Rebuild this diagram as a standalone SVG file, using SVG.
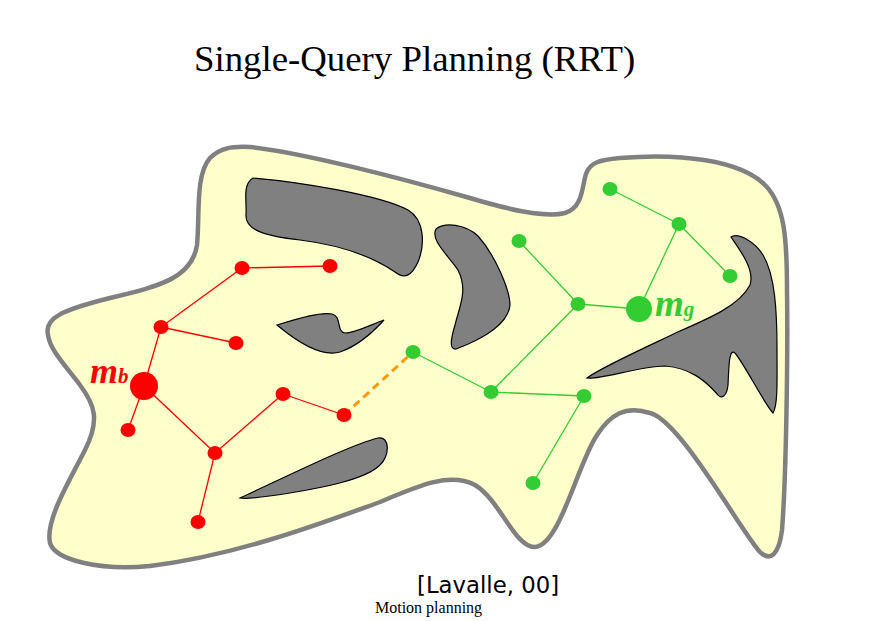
<svg xmlns="http://www.w3.org/2000/svg" width="877" height="621" viewBox="0 0 877 621">
<style>
.obs{fill:#808080;stroke:#000;stroke-width:1.2}
.red{stroke:#ff0000;stroke-width:1.3;fill:none}
.grn{stroke:#33cc33;stroke-width:1.3;fill:none}
.rn{fill:#ff0000}
.gn{fill:#33cc33}
.lbl{font-family:"Liberation Serif","Times New Roman",serif;font-weight:bold;font-style:italic}
</style>
<rect width="877" height="621" fill="#ffffff"/>
<text x="194" y="71" font-family="Liberation Serif, serif" font-size="36.8" fill="#000">Single-Query Planning (RRT)</text>
<g id="space">
<path d="M 48,335 C 44,318 62,310 110,298 C 160,286 192,278 197,245 C 200,215 195,175 210,158 C 220,148 232,146 250,147 C 300,152 400,178 470,198 C 510,210 545,218 565,213 C 583,208 582,186 586,174 C 590,162 600,160 620,158 C 680,153 740,160 765,185 C 785,205 787,240 787,290 C 788,360 786,480 782,530 C 779,555 770,562 760,552 C 740,530 680,420 650,413 C 625,405 610,415 597,435 C 577,465 560,545 535,547 C 515,548 500,500 475,485 C 450,472 420,485 380,502 C 330,520 240,555 150,566 C 100,571 55,560 50,543 C 45,520 70,480 85,450 C 100,420 95,405 80,385 C 65,365 50,350 48,335 Z" fill="#ffffcc" stroke="#808080" stroke-width="4.5"/>
</g>
<g id="obstacles">
<path class="obs" d="M 253,178 C 300,182 380,195 408,210 C 425,220 425,245 418,262 C 412,275 405,280 395,272 C 370,255 340,245 300,240 C 265,236 245,230 246,215 C 247,200 242,185 253,178 Z"/>
<path class="obs" d="M 436,229 C 445,222 465,224 478,236 C 495,255 510,290 510,305 C 508,325 480,340 456,349 C 448,350 452,335 455,325 C 460,305 468,290 458,270 C 448,255 430,240 436,229 Z"/>
<path class="obs" d="M 277,325 C 300,318 320,312 332,314 C 342,316 336,332 345,333 C 355,333 370,325 384,320 C 375,330 360,345 340,352 C 320,358 295,340 277,325 Z"/>
<path class="obs" d="M 240,498 C 290,475 350,445 378,438 C 390,436 390,455 380,465 C 365,480 320,488 290,493 C 265,497 245,499 240,498 Z"/>
<path class="obs" d="M 731,237 C 738,232 755,242 763,255 C 775,275 777,310 777,350 C 777,380 778,405 773,413 C 765,405 745,365 735,353 C 729,348 729,365 728,385 C 727,395 722,400 718,395 C 705,380 690,368 665,366 C 640,366 600,380 587,378 C 600,368 640,350 680,331 C 710,318 740,305 750,285 C 755,270 740,250 731,237 Z"/>
</g>
<g id="connectors">
<line class="red" x1="242" y1="268" x2="330" y2="266"/>
<line class="red" x1="242" y1="268" x2="161" y2="327"/>
<line class="red" x1="161" y1="327" x2="236" y2="343"/>
<line class="red" x1="161" y1="327" x2="144" y2="386"/>
<line class="red" x1="144" y1="386" x2="128" y2="430"/>
<line class="red" x1="144" y1="386" x2="215" y2="453"/>
<line class="red" x1="215" y1="453" x2="198" y2="522"/>
<line class="red" x1="215" y1="453" x2="283" y2="394"/>
<line class="red" x1="283" y1="394" x2="344" y2="415"/>
<line class="grn" x1="610" y1="189" x2="679" y2="224"/>
<line class="grn" x1="679" y1="224" x2="730" y2="276"/>
<line class="grn" x1="679" y1="224" x2="639" y2="309"/>
<line class="grn" x1="639" y1="309" x2="578" y2="304"/>
<line class="grn" x1="578" y1="304" x2="519" y2="241"/>
<line class="grn" x1="578" y1="304" x2="491" y2="392"/>
<line class="grn" x1="491" y1="392" x2="413" y2="352"/>
<line class="grn" x1="491" y1="392" x2="584" y2="396"/>
<line class="grn" x1="584" y1="396" x2="533" y2="483"/>
<line x1="344" y1="415" x2="413" y2="352" stroke="#ff9900" stroke-width="3" stroke-dasharray="8,5"/>
</g>
<g id="red-tree">
<circle id="mb" class="rn" cx="144" cy="386" r="14"/>
<ellipse class="rn" cx="161" cy="327" rx="7.5" ry="7"/>
<ellipse class="rn" cx="242" cy="268" rx="7.5" ry="7"/>
<ellipse class="rn" cx="330" cy="266" rx="7.5" ry="7"/>
<ellipse class="rn" cx="236" cy="343" rx="7.5" ry="7"/>
<ellipse class="rn" cx="128" cy="430" rx="7.5" ry="7"/>
<ellipse class="rn" cx="215" cy="453" rx="7.5" ry="7"/>
<ellipse class="rn" cx="198" cy="522" rx="7.5" ry="7"/>
<ellipse class="rn" cx="283" cy="394" rx="7.5" ry="7"/>
<ellipse class="rn" cx="344" cy="415" rx="7.5" ry="7"/>
</g>
<g id="green-tree">
<circle id="mg" class="gn" cx="639" cy="309" r="13"/>
<ellipse class="gn" cx="610" cy="189" rx="7.5" ry="7"/>
<ellipse class="gn" cx="679" cy="224" rx="7.5" ry="7"/>
<ellipse class="gn" cx="730" cy="276" rx="7.5" ry="7"/>
<ellipse class="gn" cx="519" cy="241" rx="7.5" ry="7"/>
<ellipse class="gn" cx="578" cy="304" rx="7.5" ry="7"/>
<ellipse class="gn" cx="413" cy="352" rx="7.5" ry="7"/>
<ellipse class="gn" cx="491" cy="392" rx="7.5" ry="7"/>
<ellipse class="gn" cx="584" cy="396" rx="7.5" ry="7"/>
<ellipse class="gn" cx="533" cy="483" rx="7.5" ry="7"/>
</g>
<g id="labels">
<text class="lbl" x="90" y="383" font-size="36" fill="#ff0000">m<tspan font-size="21">b</tspan></text>
<text class="lbl" x="655" y="316" font-size="37" fill="#33cc33">m<tspan font-size="21">g</tspan></text>
</g>
<text x="417" y="593" font-family="DejaVu Sans, sans-serif" font-size="22.8" fill="#000">[Lavalle, 00]</text>
<text x="375" y="613" font-family="Liberation Serif, serif" font-size="16" fill="#000">Motion planning</text>
</svg>
